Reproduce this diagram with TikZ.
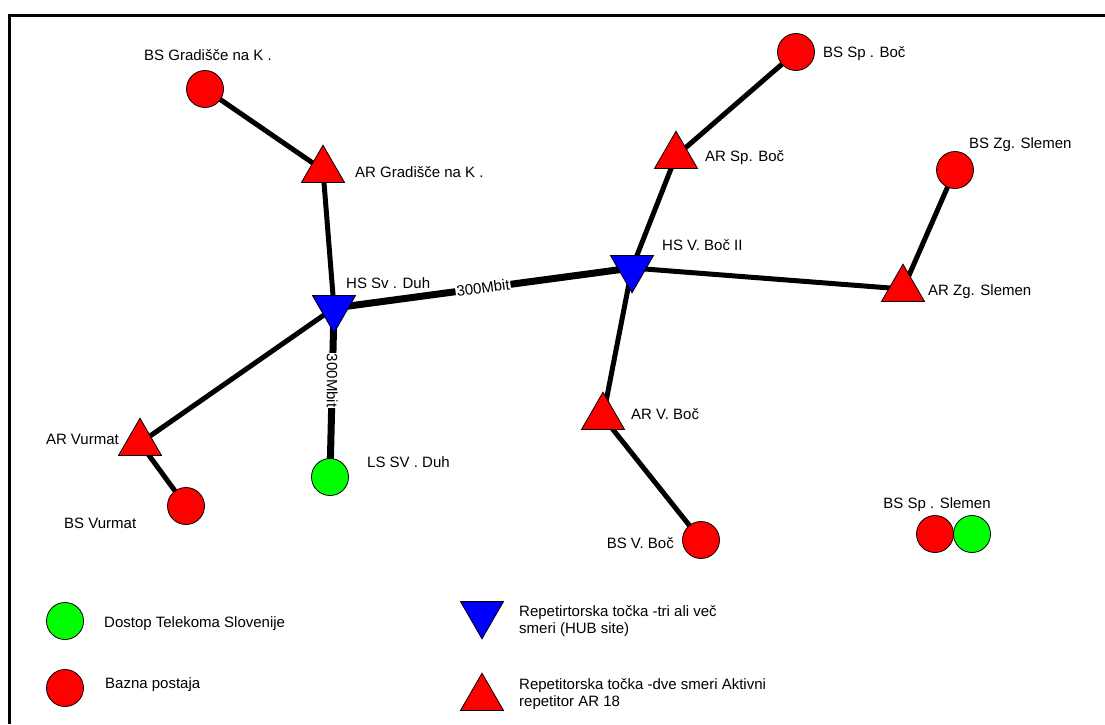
\documentclass[tikz,border=0pt]{standalone}
\usepackage{fontspec}
\setmainfont{Liberation Sans}
\usepackage{tikz}
\usetikzlibrary{shapes.geometric,backgrounds}
\definecolor{netRed}{HTML}{FF0000}
\definecolor{netGreen}{HTML}{00FF00}
\definecolor{netBlue}{HTML}{0000FF}
\tikzset{
  site/.style={
    circle,
    draw=black,
    line width=0.8pt,
    minimum size=37pt,
    inner sep=0pt
  },
  bazna/.style={site, fill=netRed},
  dostop/.style={site, fill=netGreen},
  repeater/.style={
    regular polygon,
    regular polygon sides=3,
    draw=black,
    line width=0.8pt,
    fill=netRed,
    minimum size=49.6pt,
    inner sep=0pt
  },
  hub/.style={repeater, fill=netBlue, shape border rotate=180},
  lbl/.style={font=\fontsize{15}{17}\selectfont, inner sep=0pt},
  rate/.style={lbl, fill=white, inner sep=1pt},
  link/.style={line width=5pt},
  trunk/.style={line width=7pt}
}

\begin{document}
\begin{tikzpicture}[x=1pt,y=-1pt]
  \useasboundingbox (0,0) rectangle (1105,724);
  \draw[line width=3pt] (9,724) -- (9,15) -- (1105,15);

  % sites
  \node[bazna] (bsgrad) at (205,89) {};
  \node[repeater] (argrad) at (323,170) {};
  \node[hub] (hsduh) at (334,308) {};
  \node[repeater] (arvurmat) at (140,443) {};
  \node[bazna] (bsvurmat) at (186,506) {};
  \node[dostop] (lsduh) at (330,477) {};
  \node[hub] (hsboc) at (632,268) {};
  \node[repeater] (arspboc) at (676,156) {};
  \node[bazna] (bsspboc) at (796,52) {};
  \node[repeater] (arzgslemen) at (903,289) {};
  \node[bazna] (bszgslemen) at (955,170) {};
  \node[repeater] (arvboc) at (603,417) {};
  \node[bazna] (bsvboc) at (701,540) {};
  \node[bazna] (bsspslemen) at (935,534) {};
  \node[dostop] (lsspslemen) at (972,534) {};

  % labels
  \node[lbl] (lbsgrad) at (208,55) {BS Gradišče na K .};
  \node[lbl, anchor=west] (largrad) at (355,172) {AR Gradišče na K .};
  \node[lbl, anchor=west] (lhsduh) at (346,283) {HS Sv . Duh};
  \node[lbl, anchor=east] (larvurmat) at (119,439) {AR Vurmat};
  \node[lbl, anchor=west] (lbsvurmat) at (64,523) {BS Vurmat};
  \node[lbl, anchor=west] (llsduh) at (367,462) {LS SV . Duh};
  \node[lbl, anchor=west] (lhsboc) at (662,245) {HS V. Boč II};
  \node[lbl, anchor=west] (larspboc) at (705,158) {AR Sp. Boč};
  \node[lbl, anchor=west] (lbsspboc) at (823,54) {BS Sp . Boč};
  \node[lbl, anchor=west] (larzgslemen) at (928,292) {AR Zg. Slemen};
  \node[lbl, anchor=west] (lbszgslemen) at (969,145) {BS Zg. Slemen};
  \node[lbl, anchor=west] (larvboc) at (631,414) {AR V. Boč};
  \node[lbl, anchor=east] (lbsvboc) at (674,543) {BS V. Boč};
  \node[lbl] (lbsspslemen) at (937,505) {BS Sp . Slemen};

  % legend
  \node[dostop] (keydostop) at (65,621) {};
  \node[lbl, anchor=west] (lkeydostop) at (104,624) {Dostop Telekoma Slovenije};
  \node[bazna] (keybazna) at (65,688) {};
  \node[lbl, anchor=west] (lkeybazna) at (105,685) {Bazna postaja};
  \node[hub] (keyhub) at (482,614) {};
  \node[lbl, anchor=west, align=left] (lkeyhub) at (519,621) {Repetirtorska točka -tri ali več\\smeri (HUB site)};
  \node[repeater] (keyrep) at (482,698) {};
  \node[lbl, anchor=west, align=left] (lkeyrep) at (519,694) {Repetitorska točka -dve smeri Aktivni\\repetitor AR 18};

  % links
  \begin{pgfonlayer}{background}
    \draw[link] (bsgrad.center) -- (argrad.center);
    \draw[link] (argrad.center) -- (hsduh.center);
    \draw[link] (hsduh.center) -- (arvurmat.center);
    \draw[link] (arvurmat.center) -- (bsvurmat.center);
    \draw[trunk] (hsduh.center) -- node[rate, pos=0.43, rotate=-90] {300Mbit} (lsduh.center);
    \draw[trunk] (hsduh.center) -- node[rate, pos=0.5, sloped] {300Mbit} (hsboc.center);
    \draw[link] (hsboc.center) -- (arspboc.center);
    \draw[link] (arspboc.center) -- (bsspboc.center);
    \draw[link] (hsboc.center) -- (arzgslemen.center);
    \draw[link] (arzgslemen.center) -- (bszgslemen.center);
    \draw[link] (hsboc.center) -- (arvboc.center);
    \draw[link] (arvboc.center) -- (bsvboc.center);
  \end{pgfonlayer}
\end{tikzpicture}
\end{document}
